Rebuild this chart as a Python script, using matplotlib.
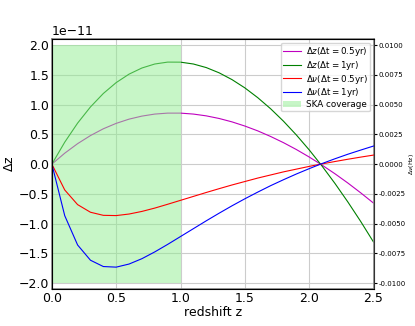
import matplotlib
matplotlib.use('Agg')
import matplotlib.pyplot as plt

# redshift grid
z = [0.0, 0.1, 0.2, 0.3, 0.4, 0.5, 0.6, 0.7, 0.8, 0.9, 1.0, 1.1, 1.2,
     1.3, 1.4, 1.5, 1.6, 1.7, 1.8, 1.9, 2.0, 2.1, 2.2, 2.3, 2.4, 2.5]

# redshift drift for dt = 1 yr (units of 1e-11)
dz_1yr = [0.0, 0.369, 0.689, 0.961, 1.187, 1.370, 1.512, 1.615, 1.682,
          1.714, 1.713, 1.682, 1.622, 1.534, 1.420, 1.281, 1.117, 0.931,
          0.722, 0.491, 0.240, -0.032, -0.323, -0.633, -0.961, -1.308]
# dt = 0.5 yr
dz_half = [0.0, 0.184, 0.344, 0.480, 0.594, 0.685, 0.756, 0.807, 0.841,
           0.857, 0.857, 0.841, 0.811, 0.767, 0.710, 0.640, 0.559, 0.465,
           0.361, 0.246, 0.120, -0.016, -0.161, -0.316, -0.481, -0.654]

# frequency drift (Hz) of 21cm line
dnu_1yr = [0.0, -0.00433, -0.00679, -0.00807, -0.00860, -0.00865, -0.00839,
           -0.00794, -0.00737, -0.00674, -0.00608, -0.00542, -0.00476,
           -0.00412, -0.00350, -0.00291, -0.00235, -0.00181, -0.00131,
           -0.00083, -0.00038, 0.00005, 0.00045, 0.00083, 0.00118, 0.00152]
dnu_half = [0.0, -0.00217, -0.00340, -0.00404, -0.00430, -0.00432, -0.00419,
            -0.00397, -0.00369, -0.00337, -0.00304, -0.00271, -0.00238,
            -0.00206, -0.00175, -0.00146, -0.00117, -0.00091, -0.00065,
            -0.00042, -0.00019, 0.00002, 0.00022, 0.00041, 0.00059, 0.00076]

ska_range = [0.0, 1.0]

fig, ax1 = plt.subplots(figsize=(4.15, 3.26), dpi=100)

l1, = ax1.plot(z, [v * 1e-11 for v in dz_half], color='m', lw=0.8,
               label=r'$\Delta z(\Delta \mathrm{t}=0.5\mathrm{yr})$')
l2, = ax1.plot(z, [v * 1e-11 for v in dz_1yr], color='g', lw=0.8,
               label=r'$\Delta z(\Delta \mathrm{t}=1\mathrm{yr})$')
span = ax1.fill_between(ska_range, -2e-11, 2e-11, color='lightgreen',
                        alpha=0.5, lw=0, zorder=3, label='SKA coverage')
ax1.set_xlim(0, 2.5)
ax1.set_ylim(-2.1e-11, 2.1e-11)
ax1.set_xlabel('redshift z', fontsize=9, labelpad=1)
ax1.set_ylabel(r'$\Delta$z', fontsize=9, labelpad=2)
ax1.tick_params(labelsize=9, pad=2, length=0)
ax1.yaxis.get_offset_text().set_fontsize(9)
ax1.grid(True, color='#cccccc', lw=0.8)
for s in ax1.spines.values():
    s.set_color('#888888')
    s.set_linewidth(1.2)

ax2 = ax1.twinx()
l3, = ax2.plot(z, dnu_half, color='r', lw=0.8,
               label=r'$\Delta \nu(\Delta \mathrm{t}=0.5\mathrm{yr})$')
l4, = ax2.plot(z, dnu_1yr, color='b', lw=0.8,
               label=r'$\Delta \nu(\Delta \mathrm{t}=1\mathrm{yr})$')
ax2.set_ylim(-0.0105, 0.0105)
ax2.set_yticks([-0.01, -0.0075, -0.005, -0.0025, 0.0, 0.0025, 0.005, 0.0075, 0.01])
ax2.set_yticklabels(['%.4f' % t for t in ax2.get_yticks()])
ax2.tick_params(labelsize=5, pad=1, length=2.5)
ax2.set_ylabel(r'$\Delta\nu$(Hz)', fontsize=4.5, labelpad=1)
ax2.spines['right'].set_color('#333333')

ax2.legend([l1, l2, l3, l4, span], [h.get_label() for h in (l1, l2, l3, l4, span)],
           loc='upper right', fontsize=6.3, framealpha=0.8, borderaxespad=0.4,
           labelspacing=0.1, borderpad=0.25, handletextpad=0.6)

fig.subplots_adjust(left=0.125, right=0.9, top=0.88, bottom=0.113)
plt.savefig('out.png', dpi=100)
